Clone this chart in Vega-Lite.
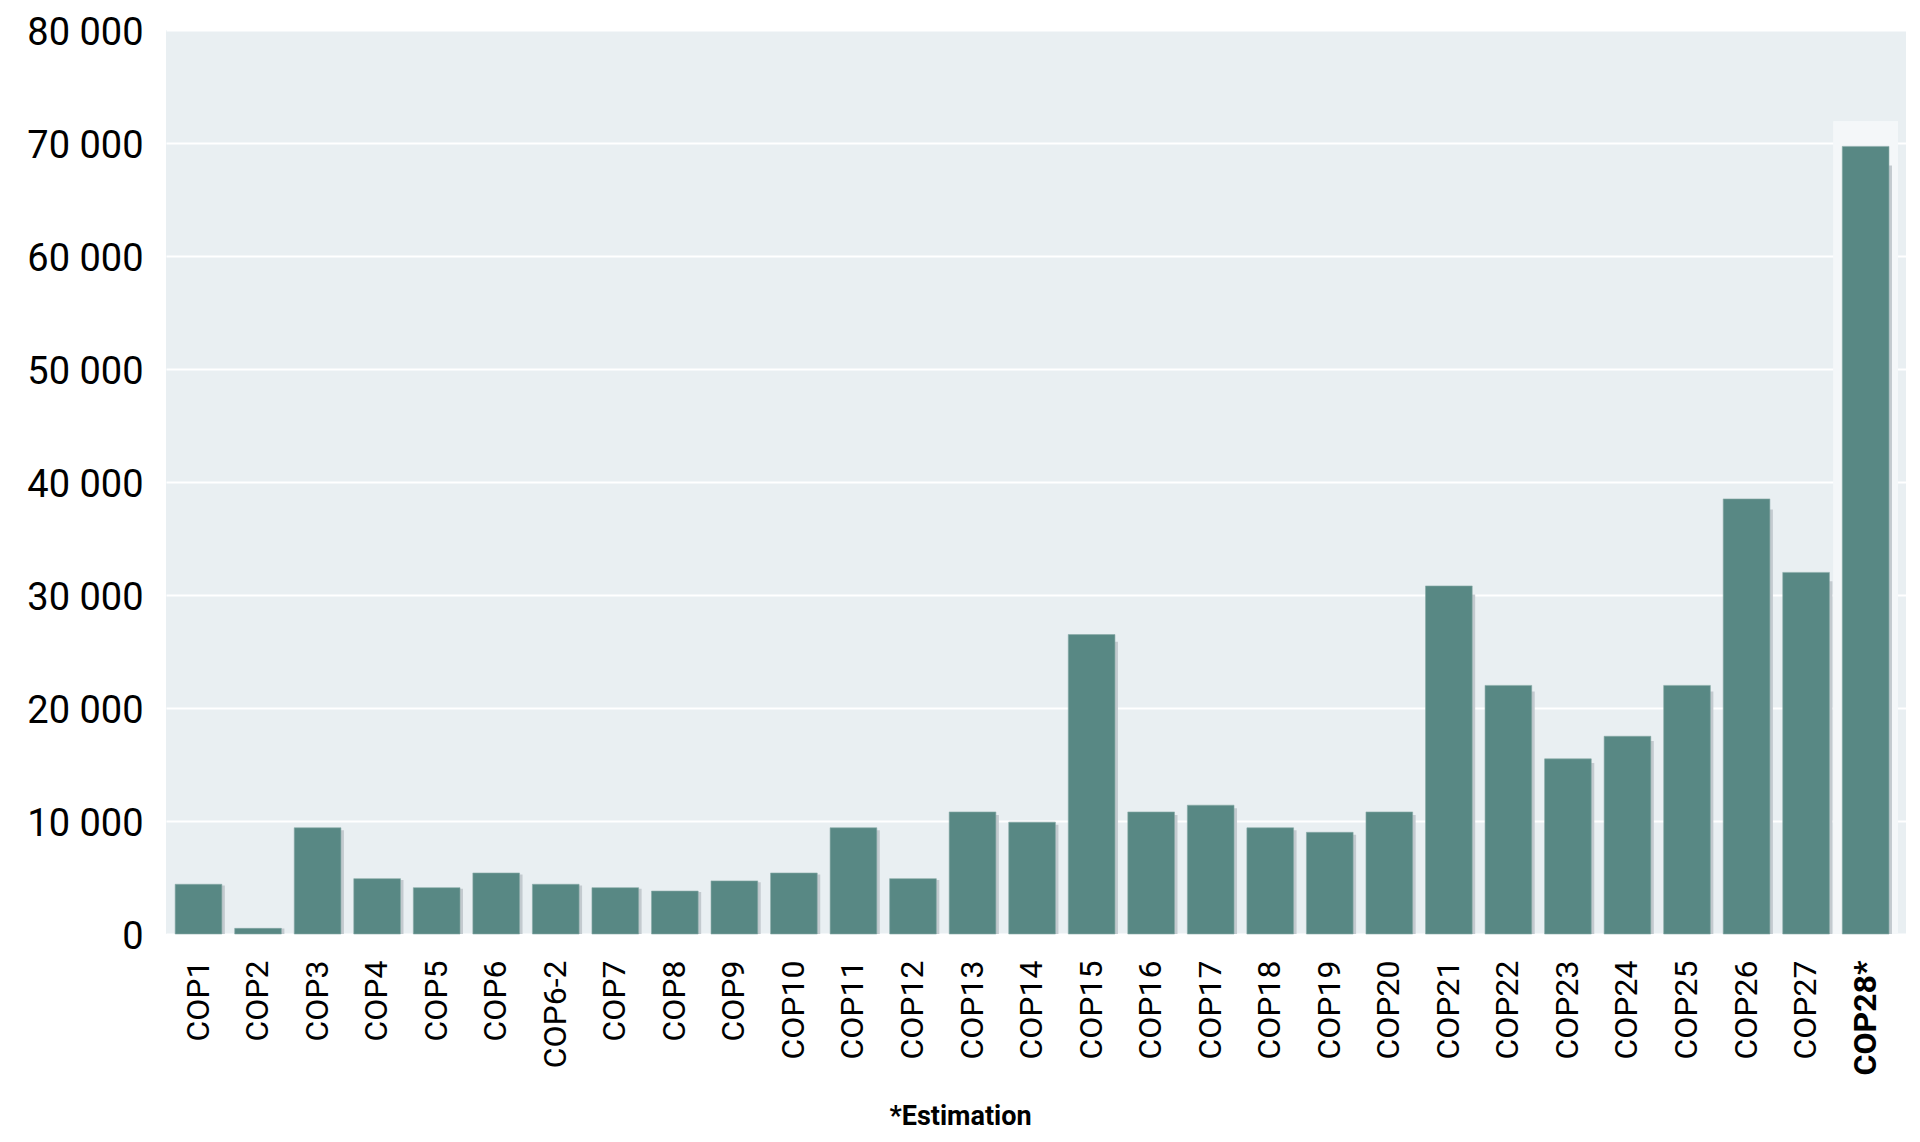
{
  "$schema": "https://vega.github.io/schema/vega-lite/v6.json",
  "autosize": "none",
  "width": 1740,
  "height": 904,
  "padding": {"left": 166, "top": 30, "right": 14, "bottom": 208},
  "background": "white",
  "config": {
    "locale": {"number": {"decimal": ",", "thousands": " ", "grouping": [3], "currency": ["", " €"]}},
    "view": {"fill": "#e9eff2", "stroke": null},
    "font": "Roboto"
  },
  "data": {"values": [
    {"cop": "COP1", "visitors": 4400},
    {"cop": "COP2", "visitors": 500},
    {"cop": "COP3", "visitors": 9400},
    {"cop": "COP4", "visitors": 4900},
    {"cop": "COP5", "visitors": 4100},
    {"cop": "COP6", "visitors": 5400},
    {"cop": "COP6-2", "visitors": 4400},
    {"cop": "COP7", "visitors": 4100},
    {"cop": "COP8", "visitors": 3800},
    {"cop": "COP9", "visitors": 4700},
    {"cop": "COP10", "visitors": 5400},
    {"cop": "COP11", "visitors": 9400},
    {"cop": "COP12", "visitors": 4900},
    {"cop": "COP13", "visitors": 10800},
    {"cop": "COP14", "visitors": 9900},
    {"cop": "COP15", "visitors": 26500},
    {"cop": "COP16", "visitors": 10800},
    {"cop": "COP17", "visitors": 11400},
    {"cop": "COP18", "visitors": 9400},
    {"cop": "COP19", "visitors": 9000},
    {"cop": "COP20", "visitors": 10800},
    {"cop": "COP21", "visitors": 30800},
    {"cop": "COP22", "visitors": 22000},
    {"cop": "COP23", "visitors": 15500},
    {"cop": "COP24", "visitors": 17500},
    {"cop": "COP25", "visitors": 22000},
    {"cop": "COP26", "visitors": 38500},
    {"cop": "COP27", "visitors": 32000},
    {"cop": "COP28*", "visitors": 69700}
  ]},
  "encoding": {
    "x": {
      "field": "cop", "type": "nominal", "sort": null,
      "scale": {
        "domain": ["COP1", "COP2", "COP3", "COP4", "COP5", "COP6", "COP6-2", "COP7", "COP8", "COP9", "COP10", "COP11", "COP12", "COP13", "COP14", "COP15", "COP16", "COP17", "COP18", "COP19", "COP20", "COP21", "COP22", "COP23", "COP24", "COP25", "COP26", "COP27", "COP28*"],
        "paddingInner": 0.216, "paddingOuter": 0.22, "align": 0.35
      },
      "axis": {
        "title": "*Estimation",
        "titleFont": "Roboto", "titleFontSize": 27, "titleFontWeight": "bold", "titleColor": "#000000",
        "titleX": 794, "titleY": 190, "titleAlign": "center", "titleBaseline": "alphabetic", "titleAnchor": null,
        "labelAngle": -90, "labelAlign": "right", "labelBaseline": "middle",
        "labelFont": "Roboto", "labelFontSize": 32, "labelColor": "#000000", "labelPadding": 26,
        "labelFontWeight": {"condition": {"test": "datum.value == 'COP28*'", "value": "bold"}, "value": "normal"},
        "ticks": false, "domain": false, "grid": false
      }
    }
  },
  "layer": [
    {
      "mark": {"type": "bar", "color": "#f4f7f9", "width": 64},
      "encoding": {
        "x": {"datum": "COP28*", "type": "nominal"},
        "y": {"datum": 71900, "type": "quantitative", "scale": {"domain": [0, 80000], "nice": false}, "axis": null}
      }
    },
    {
      "mark": {"type": "bar", "color": "#c3cacf", "xOffset": 3},
      "encoding": {
        "y": {"field": "visitors", "type": "quantitative", "scale": {"domain": [0, 82000], "nice": false}, "axis": null}
      }
    },
    {
      "mark": {"type": "bar", "color": "#588884", "stroke": "#86aaa6", "strokeWidth": 0.6},
      "encoding": {
        "y": {
          "field": "visitors", "type": "quantitative",
          "scale": {"domain": [0, 80000], "nice": false},
          "axis": {
            "title": null, "values": [0, 10000, 20000, 30000, 40000, 50000, 60000, 70000, 80000],
            "format": ",d", "labelOverlap": false,
            "labelFont": "Roboto", "labelFontSize": 38, "labelColor": "#000000", "labelPadding": 23, "labelOffset": 3,
            "ticks": false, "domain": false,
            "grid": true, "gridColor": "#ffffff", "gridWidth": 2
          }
        }
      }
    }
  ],
  "resolve": {"scale": {"y": "independent"}}
}
